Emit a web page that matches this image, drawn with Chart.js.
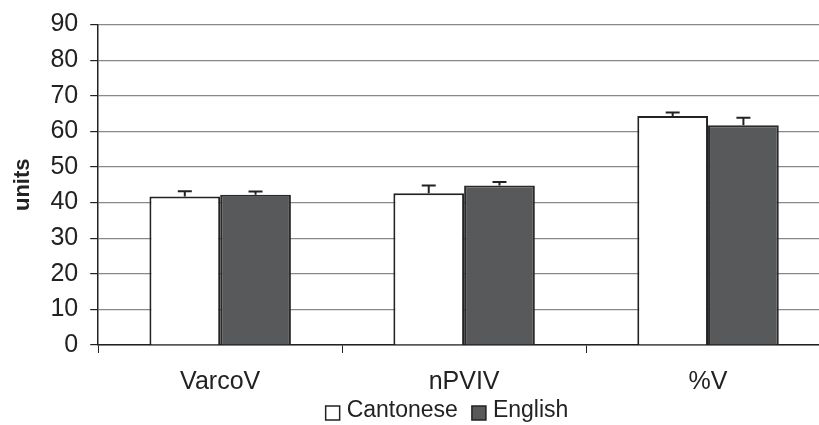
<!DOCTYPE html>
<html>
<head>
<meta charset="utf-8">
<script src="https://cdn.jsdelivr.net/npm/chart.js@4"></script>
<style>
  html, body { margin: 0; padding: 0; background: #fff; overflow: hidden; }
  #wrap { width: 819px; height: 425px; overflow: hidden; }
</style>
</head>
<body>
<div id="wrap"><canvas id="chart" width="830" height="425"></canvas></div>
<script>
const categories = ["VarcoV", "nPVIV", "%V"];
const cantonese = [41.7, 42.6, 64.3];
const english = [42.2, 44.8, 61.7];
const cantoneseErr = [1.5, 2.2, 1.0];
const englishErr = [0.9, 1.0, 2.1];
const yTicks = [0, 10, 20, 30, 40, 50, 60, 70, 80, 90];

const FONT = "'Liberation Sans', Arial, sans-serif";

// draws upward error bars on top of each bar
const errorBars = {
  id: "errorBars",
  afterDatasetsDraw(chart) {
    const ctx = chart.ctx;
    const yScale = chart.scales.y;
    chart.data.datasets.forEach((ds, i) => {
      const meta = chart.getDatasetMeta(i);
      meta.data.forEach((bar, j) => {
        const top = yScale.getPixelForValue(ds.data[j] + ds.errors[j]);
        ctx.save();
        ctx.strokeStyle = "#222";
        ctx.lineWidth = 2;
        ctx.beginPath();
        ctx.moveTo(bar.x, bar.y);
        ctx.lineTo(bar.x, top);
        ctx.moveTo(bar.x - 7, top);
        ctx.lineTo(bar.x + 7, top);
        ctx.stroke();
        ctx.restore();
      });
    });
  },
};

// small legend under the axis, box then label, like the original
const bottomLegend = {
  id: "bottomLegend",
  afterDraw(chart) {
    const ctx = chart.ctx;
    const centerX = 447;
    const midY = 411;
    const box = 14;
    const gapText = 7;
    const gapItem = 14;
    ctx.save();
    ctx.font = "23px " + FONT;
    const items = chart.data.datasets.map((ds) => ({
      text: ds.label,
      fill: ds.backgroundColor,
      w: ctx.measureText(ds.label).width,
    }));
    let total = 0;
    items.forEach((it, i) => {
      total += box + gapText + it.w + (i > 0 ? gapItem : 0);
    });
    let x = centerX - total / 2;
    items.forEach((it) => {
      ctx.fillStyle = it.fill;
      ctx.fillRect(x, midY - 5, box, box);
      ctx.strokeStyle = "#222";
      ctx.lineWidth = 1.5;
      ctx.strokeRect(x, midY - 5, box, box);
      x += box + gapText;
      ctx.fillStyle = "#222";
      ctx.textBaseline = "middle";
      ctx.fillText(it.text, x, midY);
      x += it.w + gapItem;
    });
    ctx.restore();
  },
};

const ctx = document.getElementById("chart").getContext("2d");
new Chart(ctx, {
  type: "bar",
  data: {
    labels: categories,
    datasets: [
      {
        label: "Cantonese",
        data: cantonese,
        errors: cantoneseErr,
        backgroundColor: "#ffffff",
        borderColor: "#222",
        borderWidth: 2,
        categoryPercentage: 0.58,
        barPercentage: 1.0,
      },
      {
        label: "English",
        data: english,
        errors: englishErr,
        backgroundColor: "#58595b",
        borderColor: "#2a2a2a",
        borderWidth: 2,
        categoryPercentage: 0.58,
        barPercentage: 1.0,
      },
    ],
  },
  options: {
    responsive: false,
    animation: false,
    layout: { padding: { top: 1, right: 0, bottom: 14, left: 8 } },
    plugins: {
      legend: { display: false },
      tooltip: { enabled: false },
    },
    scales: {
      x: {
        grid: {
          drawOnChartArea: false,
          drawTicks: true,
          tickLength: 8,
          color: "#222",
        },
        border: { color: "#222", width: 1.5 },
        ticks: {
          font: { family: FONT, size: 25 },
          color: "#222",
          padding: 14,
        },
      },
      y: {
        min: 0,
        max: 90,
        afterBuildTicks(axis) {
          axis.ticks = yTicks.map((v) => ({ value: v }));
        },
        grid: {
          color: "#888",
          lineWidth: 1.2,
          tickLength: 8,
          tickColor: "#222",
        },
        border: { color: "#222", width: 1.5 },
        ticks: {
          font: { family: FONT, size: 25, lineHeight: 1 },
          color: "#222",
          padding: 12,
        },
        title: {
          display: true,
          text: "units",
          font: { family: FONT, size: 22, weight: "bold" },
          color: "#222",
          padding: 2,
        },
      },
    },
  },
  plugins: [errorBars, bottomLegend],
});
</script>
</body>
</html>
